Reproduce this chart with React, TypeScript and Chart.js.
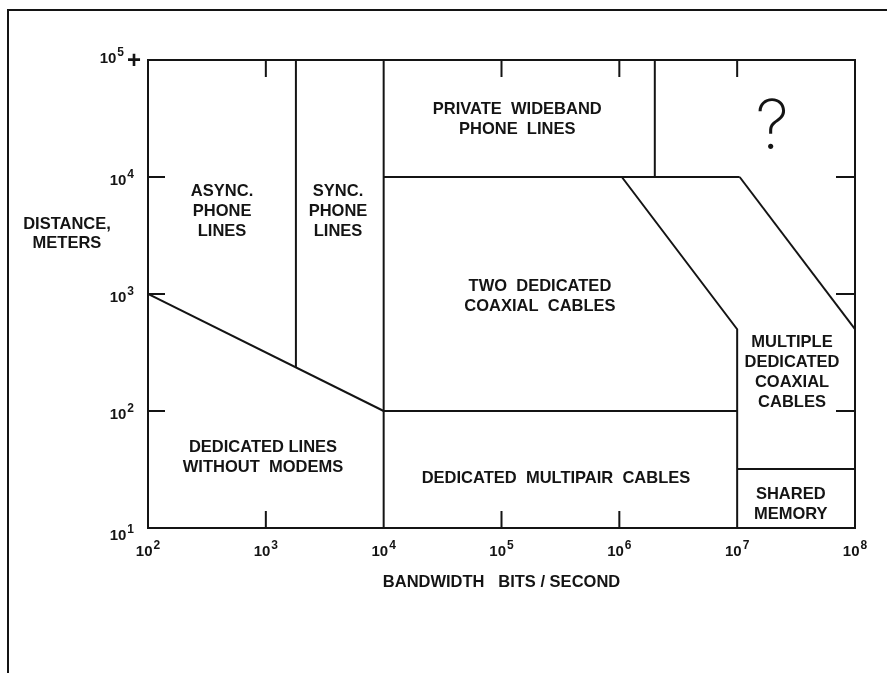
import React, { useEffect, useRef } from "react";
import { Chart, registerables } from "chart.js";

Chart.register(...registerables);

// ---- axis ticks ----
const xTickValues = [1e2, 1e3, 1e4, 1e5, 1e6, 1e7, 1e8];
const xTickBases = ["10", "10", "10", "10", "10", "10", "10"];
const xTickExponents = ["2", "3", "4", "5", "6", "7", "8"];
const yTickValues = [1e1, 1e2, 1e3, 1e4, 1e5];
const yTickBases = ["10", "10", "10", "10", "10"];
const yTickExponents = ["1", "2", "3", "4", "5"];
const yTickSuffixes = ["", "", "", "", "+"];

// inward tick marks
const leftMarks = [1e2, 1e3, 1e4];
const rightMarks = [1e2, 1e3, 1e4];
const topMarks = [1e3, 1e5, 1e6, 1e7];
const bottomMarks = [1e3, 1e5, 1e6];

// ---- region boundaries (bandwidth bps, distance m) ----
const modemlessLimit = [{ x: 1e2, y: 1e3 }, { x: 1e4, y: 1e2 }];
const asyncSyncBoundary = [{ x: 1800, y: 236 }, { x: 1800, y: 1e5 }];
const tenKilobitBoundary = [{ x: 1e4, y: 1e1 }, { x: 1e4, y: 1e5 }];
const phoneLineFloor = [{ x: 1e4, y: 1e4 }, { x: 1.05e7, y: 1e4 }];
const wideBandBoundary = [{ x: 2e6, y: 1e4 }, { x: 2e6, y: 1e5 }];
const twoCoaxLimit = [{ x: 1.05e6, y: 1e4 }, { x: 1e7, y: 500 }, { x: 1e7, y: 1e1 }];
const multiCoaxLimit = [{ x: 1.05e7, y: 1e4 }, { x: 1e8, y: 500 }];
const multipairCeiling = [{ x: 1e4, y: 1e2 }, { x: 1e7, y: 1e2 }];
const sharedMemoryCeiling = [{ x: 1e7, y: 32 }, { x: 1e8, y: 32 }];

const boundaries = [
  modemlessLimit,
  asyncSyncBoundary,
  tenKilobitBoundary,
  phoneLineFloor,
  wideBandBoundary,
  twoCoaxLimit,
  multiCoaxLimit,
  multipairCeiling,
  sharedMemoryCeiling,
];

// ---- region labels ----
const regionTexts = [
  ["ASYNC.", "PHONE", "LINES"],
  ["SYNC.", "PHONE", "LINES"],
  ["PRIVATE  WIDEBAND", "PHONE  LINES"],
  ["TWO  DEDICATED", "COAXIAL  CABLES"],
  ["MULTIPLE", "DEDICATED", "COAXIAL", "CABLES"],
  ["DEDICATED LINES", "WITHOUT  MODEMS"],
  ["DEDICATED  MULTIPAIR  CABLES"],
  ["SHARED", "MEMORY"],
];
const regionX = [425, 4100, 1.36e5, 2.12e5, 2.92e7, 946, 2.9e5, 2.85e7];
const regionY = [5100, 5100, 3.1e4, 960, 215, 40, 26.7, 16];

const unknownMark = "?";
const unknownX = 1.98e7;
const unknownY = 2.6e4;

const xTitle = "BANDWIDTH   BITS / SECOND";
const yTitleLines = ["DISTANCE,", "METERS"];

const INK = "#141414";
const FONT = "'Liberation Sans', Arial, sans-serif";
const TEXT_FONT = `bold 16.5px ${FONT}`;
const BASE_FONT = `bold 15px ${FONT}`;
const EXP_FONT = `bold 12px ${FONT}`;

const overlay = {
  id: "overlay",
  beforeDraw(chart: any) {
    const { ctx, width, height } = chart;
    ctx.save();
    ctx.fillStyle = "#ffffff";
    ctx.fillRect(0, 0, width, height);
    ctx.strokeStyle = INK;
    ctx.lineWidth = 2;
    ctx.beginPath();
    ctx.moveTo(8, height);
    ctx.lineTo(8, 10);
    ctx.lineTo(width, 10);
    ctx.stroke();
    ctx.restore();
  },
  afterDatasetsDraw(chart: any) {
    const { ctx, chartArea: a, scales } = chart;
    const xs = scales.x;
    const ys = scales.y;
    ctx.save();
    ctx.strokeStyle = INK;
    ctx.lineWidth = 2;
    ctx.strokeRect(a.left, a.top, a.right - a.left, a.bottom - a.top);

    const L = 17;
    ctx.beginPath();
    leftMarks.forEach((v) => {
      const y = ys.getPixelForValue(v);
      ctx.moveTo(a.left, y);
      ctx.lineTo(a.left + L, y);
    });
    rightMarks.forEach((v) => {
      const y = ys.getPixelForValue(v);
      ctx.moveTo(a.right - L - 2, y);
      ctx.lineTo(a.right, y);
    });
    topMarks.forEach((v) => {
      const x = xs.getPixelForValue(v);
      ctx.moveTo(x, a.top);
      ctx.lineTo(x, a.top + L);
    });
    bottomMarks.forEach((v) => {
      const x = xs.getPixelForValue(v);
      ctx.moveTo(x, a.bottom);
      ctx.lineTo(x, a.bottom - L);
    });
    ctx.stroke();

    ctx.fillStyle = INK;

    // x tick labels: base + raised exponent
    ctx.textBaseline = "alphabetic";
    ctx.textAlign = "left";
    xTickValues.forEach((v, i) => {
      const x = xs.getPixelForValue(v);
      ctx.font = BASE_FONT;
      const wb = ctx.measureText(xTickBases[i]).width;
      ctx.font = EXP_FONT;
      const we = ctx.measureText(xTickExponents[i]).width;
      const x0 = x - (wb + we + 1) / 2;
      const base = a.bottom + 28;
      ctx.font = BASE_FONT;
      ctx.fillText(xTickBases[i], x0, base);
      ctx.font = EXP_FONT;
      ctx.fillText(xTickExponents[i], x0 + wb + 1, base - 7);
    });

    // y tick labels
    yTickValues.forEach((v, i) => {
      const y = ys.getPixelForValue(v);
      let right = a.left - 14;
      let base = y + 8;
      if (i === 0) base = y + 12;
      if (yTickSuffixes[i]) {
        ctx.font = `bold 24px ${FONT}`;
        const ws = ctx.measureText(yTickSuffixes[i]).width;
        ctx.fillText(yTickSuffixes[i], a.left - 7 - ws, y + 8);
        right = a.left - 7 - ws - 3;
        base = y + 3;
      }
      ctx.font = EXP_FONT;
      const we = ctx.measureText(yTickExponents[i]).width;
      ctx.font = BASE_FONT;
      const wb = ctx.measureText(yTickBases[i]).width;
      const x0 = right - we - 1 - wb;
      ctx.fillText(yTickBases[i], x0, base);
      ctx.font = EXP_FONT;
      ctx.fillText(yTickExponents[i], x0 + wb + 1, base - 7);
    });

    // region labels
    ctx.textAlign = "center";
    ctx.textBaseline = "middle";
    ctx.font = TEXT_FONT;
    const lh = 20;
    regionTexts.forEach((lines, i) => {
      const cx = xs.getPixelForValue(regionX[i]);
      const cy = ys.getPixelForValue(regionY[i]);
      const y0 = cy - ((lines.length - 1) * lh) / 2;
      lines.forEach((t, j) => ctx.fillText(t, cx, y0 + j * lh));
    });

    ctx.font = `200 68px Inter, ${FONT}`;
    ctx.fillText(unknownMark, xs.getPixelForValue(unknownX), ys.getPixelForValue(unknownY));

    ctx.font = TEXT_FONT;
    yTitleLines.forEach((t, j) => ctx.fillText(t, 67, 224 + j * 19));
    ctx.restore();
  },
};

export default function App() {
  const ref = useRef<HTMLCanvasElement | null>(null);
  useEffect(() => {
    if (!ref.current) return;
    const chart = new Chart(ref.current, {
      type: "scatter",
      data: {
        datasets: boundaries.map((pts, i) => ({
          label: `boundary ${i + 1}`,
          data: pts,
          showLine: true,
          borderColor: INK,
          borderWidth: 2,
          pointRadius: 0,
          fill: false,
          tension: 0,
        })),
      },
      options: {
        responsive: false,
        animation: false,
        events: [],
        layout: { padding: { left: 0, top: 60, right: 32, bottom: 81 } },
        plugins: { legend: { display: false }, tooltip: { enabled: false } },
        scales: {
          x: {
            type: "logarithmic",
            min: 1e2,
            max: 1e8,
            afterBuildTicks: (s: any) => {
              s.ticks = xTickValues.map((v) => ({ value: v }));
            },
            afterFit: (s: any) => {
              s.height = 64;
            },
            grid: { display: false, drawTicks: false },
            border: { display: false },
            ticks: { display: false },
            title: {
              display: true,
              text: xTitle,
              color: INK,
              padding: 0,
              font: { family: FONT, size: 16.5, weight: "bold" },
            },
          },
          y: {
            type: "logarithmic",
            min: 1e1,
            max: 1e5,
            afterBuildTicks: (s: any) => {
              s.ticks = yTickValues.map((v) => ({ value: v }));
            },
            afterFit: (s: any) => {
              s.width = 148;
            },
            grid: { display: false, drawTicks: false },
            border: { display: false },
            ticks: { display: false },
          },
        },
      },
      plugins: [overlay],
    });
    return () => chart.destroy();
  }, []);
  return (
    <div style={{ position: "fixed", left: 0, top: 0, width: 887, height: 673, overflow: "hidden", background: "#fff" }}>
      <canvas ref={ref} width={887} height={673} style={{ display: "block" }} />
    </div>
  );
}
